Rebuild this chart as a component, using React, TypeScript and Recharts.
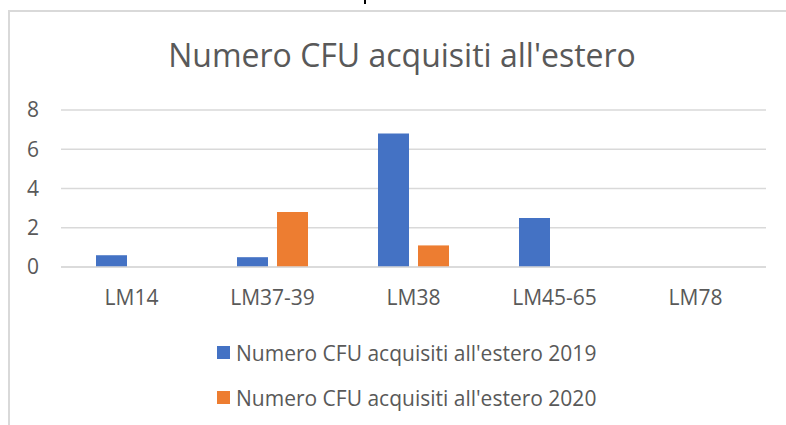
import { BarChart, Bar, XAxis, YAxis, CartesianGrid, Legend } from 'recharts';

const categories = ['LM14', 'LM37-39', 'LM38', 'LM45-65', 'LM78'];
const cfu2019 = [0.6, 0.5, 6.8, 2.5, 0];
const cfu2020 = [0, 2.8, 1.1, 0, 0];
const yTicks = [0, 2, 4, 6, 8];

const SERIES_2019 = "Numero CFU acquisiti all'estero 2019";
const SERIES_2020 = "Numero CFU acquisiti all'estero 2020";
const TITLE = "Numero CFU acquisiti all'estero";

const FONT = '"Open Sans", Lato, sans-serif';
const TEXT = '#595959';
const GRID = '#d9d9d9';

const data = categories.map((name, i) => ({
  name,
  y2019: cfu2019[i],
  y2020: cfu2020[i],
}));

function LegendBox({ payload }: any) {
  return (
    <div style={{ fontFamily: FONT, fontSize: 21, color: TEXT, whiteSpace: 'nowrap' }}>
      {(payload || []).map((item: any) => (
        <div
          key={item.value}
          style={{ display: 'flex', alignItems: 'center', height: 45 }}
        >
          <span
            style={{
              width: 13,
              height: 13,
              background: item.color,
              marginRight: 6,
              display: 'inline-block',
            }}
          />
          <span>{item.value}</span>
        </div>
      ))}
    </div>
  );
}

export default function App() {
  return (
    <div
      style={{
        position: 'absolute',
        left: 0,
        top: 0,
        width: 786,
        height: 425,
        overflow: 'hidden',
        background: '#fff',
      }}
    >
      {/* descender of page text cut off above the chart */}
      <div
        style={{ position: 'absolute', left: 364, top: 0, width: 2, height: 4, background: '#000' }}
      />
      <div
        style={{
          position: 'absolute',
          left: 8,
          top: 10,
          width: 820,
          height: 460,
          border: `2px solid ${GRID}`,
          boxSizing: 'border-box',
        }}
      />
      <div
        style={{
          position: 'absolute',
          left: 0,
          top: 34,
          width: 804,
          textAlign: 'center',
          fontFamily: FONT,
          fontSize: 32,
          color: TEXT,
          lineHeight: '42px',
        }}
      >
        {TITLE}
      </div>
      <BarChart
        width={786}
        height={425}
        data={data}
        margin={{ top: 110, right: 20, bottom: 128, left: 21 }}
        barSize={31}
        barGap={9}
        style={{ position: 'absolute', left: 0, top: 0 }}
      >
        <CartesianGrid vertical={false} stroke={GRID} strokeWidth={1.5} />
        <XAxis
          dataKey="name"
          height={30}
          tickLine={false}
          tickSize={0}
          tickMargin={23}
          axisLine={{ stroke: GRID, strokeWidth: 1.5 }}
          tick={{ fontFamily: FONT, fontSize: 21, fill: TEXT }}
        />
        <YAxis
          width={40}
          domain={[0, 8]}
          ticks={yTicks}
          axisLine={false}
          tickLine={false}
          tickSize={0}
          tickMargin={22}
          tick={{ fontFamily: FONT, fontSize: 21, fill: TEXT }}
        />
        <Legend
          layout="horizontal"
          verticalAlign="middle"
          align="center"
          content={<LegendBox />}
          wrapperStyle={{ position: 'absolute', left: 217, top: 330, width: 'auto' }}
        />
        <Bar dataKey="y2019" name={SERIES_2019} fill="#4472C4" isAnimationActive={false} />
        <Bar dataKey="y2020" name={SERIES_2020} fill="#ED7D31" isAnimationActive={false} />
      </BarChart>
    </div>
  );
}
